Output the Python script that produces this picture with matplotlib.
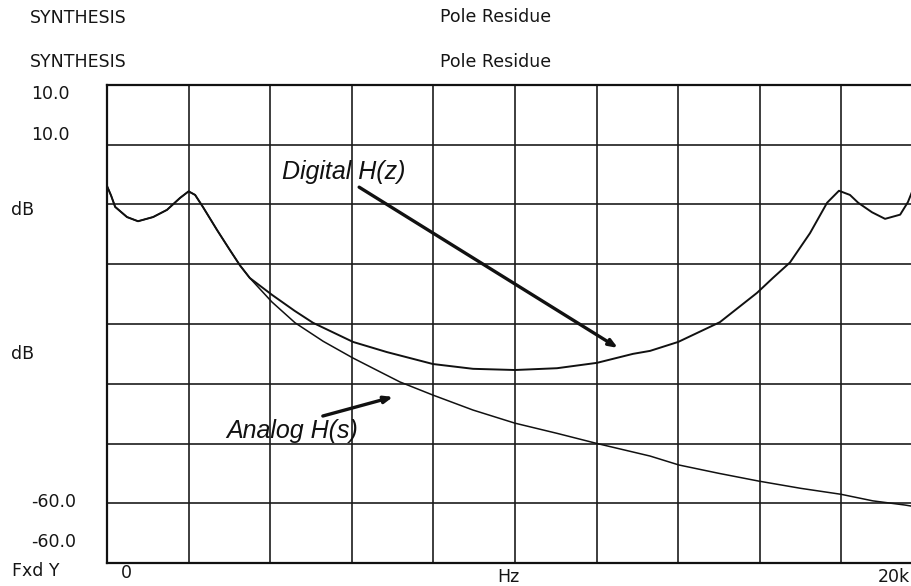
import numpy as np
import matplotlib
matplotlib.use("Agg")
import matplotlib.pyplot as plt

# Frequency (kHz) and magnitude (dB)
digital_khz = [0.0, 0.1, 0.2, 0.49, 0.76, 1.13, 1.47, 1.79, 2.0, 2.16, 2.35, 2.7, 3.01,
               3.26, 3.5, 4.04, 4.6, 5.05, 6.03, 6.86, 7.99, 8.97, 10.0, 11.03, 12.01,
               12.89, 13.31, 14.0, 15.02, 15.93, 16.32, 16.74, 17.23, 17.65, 17.94,
               18.21, 18.41, 18.75, 19.07, 19.44, 19.63, 19.73, 19.85, 20.0]
digital_db = [-6.9, -8.5, -10.4, -12.1, -12.8, -12.1, -10.9, -8.9, -7.8, -8.4, -10.4,
              -14.3, -17.6, -20.2, -22.3, -25.1, -27.8, -29.8, -33.0, -34.7, -36.7,
              -37.5, -37.7, -37.4, -36.5, -35.0, -34.5, -33.0, -29.7, -24.8, -22.3,
              -19.7, -14.8, -9.7, -7.7, -8.4, -9.7, -11.3, -12.4, -11.7, -9.6, -7.9,
              -6.5, -5.5]

analog_khz = [0.0, 0.1, 0.2, 0.49, 0.76, 1.13, 1.47, 1.79, 2.0, 2.16, 2.35, 2.7, 3.01,
              3.26, 3.5, 4.04, 4.61, 5.3, 6.03, 6.69, 7.18, 7.99, 8.97, 10.0, 11.03,
              12.01, 13.31, 14.02, 15.0, 15.98, 17.0, 17.99, 18.77, 19.56, 20.0]
analog_db = [-6.9, -8.5, -10.4, -12.1, -12.8, -12.1, -10.9, -8.9, -7.8, -8.4, -10.4,
             -14.3, -17.6, -20.2, -22.3, -26.3, -29.8, -32.9, -35.7, -38.0, -39.7,
             -41.9, -44.4, -46.6, -48.3, -50.0, -52.1, -53.6, -55.0, -56.3, -57.5,
             -58.5, -59.6, -60.3, -60.8]

# annotation labels: text anchor and arrow tail/head in data units
digital_label = "Digital H(z)"
digital_text_at = (4.29, -5.7)
digital_arrow = [(6.18, -7.1), (12.52, -34.0)]
analog_label = "Analog H(s)"
analog_text_at = (2.92, -49.1)
analog_arrow = [(5.29, -45.4), (7.01, -42.2)]

x_min, x_max, x_step = 0, 20, 2
y_min, y_max, y_step = -70, 10, 10

W, H = 912, 586
fig = plt.figure(figsize=(W / 100, H / 100), dpi=100)
fig.patch.set_facecolor("white")

# plot frame runs past the right edge of the picture
ax = fig.add_axes([107 / W, 1 - 563 / H, 816 / W, 478 / H])
ax.set_xlim(x_min, x_max)
ax.set_ylim(y_min, y_max)
ax.set_xticks(np.arange(x_min, x_max + 0.1, x_step))
ax.set_yticks(np.arange(y_min, y_max + 0.1, y_step))
ax.tick_params(length=0, labelbottom=False, labelleft=False)
ax.grid(True, color="#1c1c1c", linewidth=1.2)
for sp in ax.spines.values():
    sp.set_linewidth(1.6)
    sp.set_color("#111111")

ax.plot(analog_khz, analog_db, color="#111111", linewidth=1.1, zorder=3)
ax.plot(digital_khz, digital_db, color="#111111", linewidth=1.4, zorder=3)

lab_font = dict(family="Liberation Sans", style="italic", fontsize=18, color="#111111")
ax.text(*digital_text_at, digital_label, ha="left", va="baseline", zorder=4, **lab_font)
ax.text(*analog_text_at, analog_label, ha="left", va="baseline", zorder=4, **lab_font)
arrow_props = dict(arrowstyle="-|>,head_length=0.5,head_width=0.2", color="#111111",
                   linewidth=2.4, shrinkA=0, shrinkB=0)
ax.annotate("", xy=digital_arrow[1], xytext=digital_arrow[0], arrowprops=arrow_props)
ax.annotate("", xy=analog_arrow[1], xytext=analog_arrow[0], arrowprops=arrow_props)

# plotter style header / scale texts, placed by pixel position
def ptext(x, y, s, ha="left"):
    fig.text(x / W, 1 - y / H, s, ha=ha, va="baseline", fontsize=12.5,
             family="DejaVu Sans", color="#151515")

ptext(30, 23, "SYNTHESIS")
ptext(30, 67, "SYNTHESIS")
ptext(440, 22, "Pole Residue")
ptext(440, 67, "Pole Residue")
ptext(70, 99, "10.0", ha="right")
ptext(70, 140, "10.0", ha="right")
ptext(11, 215, "dB")
ptext(11, 359, "dB")
ptext(76, 507, "-60.0", ha="right")
ptext(76, 547, "-60.0", ha="right")
ptext(12, 576, "Fxd Y")
ptext(126, 578, "0", ha="center")
ptext(508, 582, "Hz", ha="center")
ptext(910, 582, "20k", ha="right")

fig.savefig("out.png", dpi=100)
